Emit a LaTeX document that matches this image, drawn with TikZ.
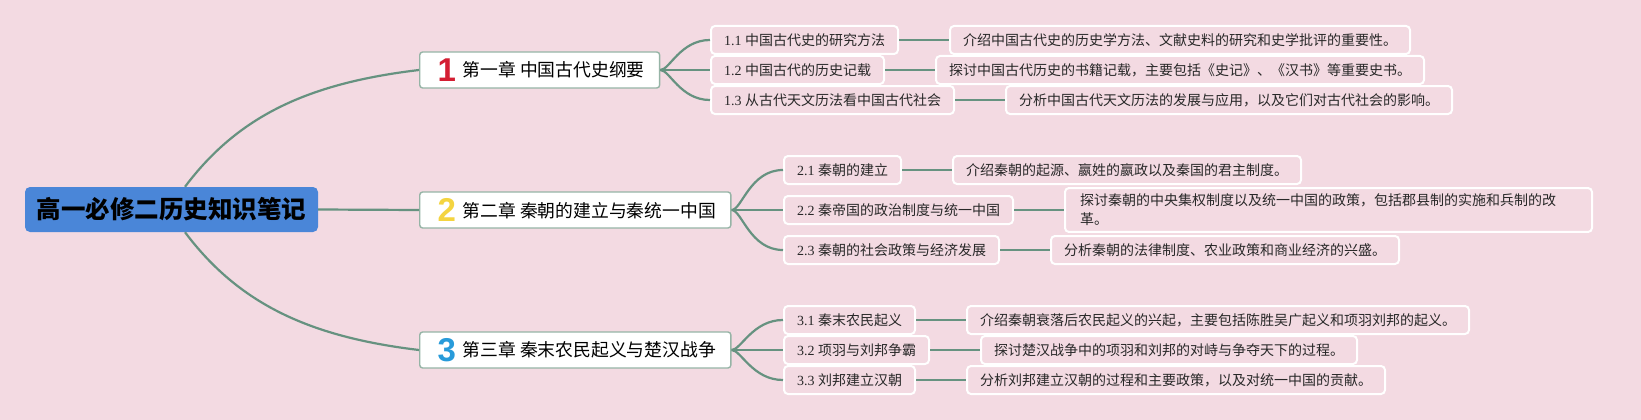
\documentclass[tikz,border=0pt]{standalone}
\usepackage{fontspec}
\setmainfont{Liberation Serif}
\newfontfamily\cjk{Noto Sans CJK SC}
\newfontfamily\numfont{Liberation Sans}
\usetikzlibrary{positioning}
\definecolor{bgpink}{RGB}{243,218,226}
\definecolor{linkgreen}{RGB}{102,146,128}
\definecolor{chapborder}{RGB}{150,180,166}
\definecolor{rootblue}{RGB}{74,134,216}
\definecolor{numred}{RGB}{212,30,50}
\definecolor{numyellow}{RGB}{244,212,64}
\definecolor{numblue}{RGB}{40,155,218}
\definecolor{txtgray}{RGB}{40,40,40}
\tikzset{x=1pt, y=-1pt,
    rootnode/.style={fill=rootblue, rounded corners=5pt, minimum width=293pt,
        minimum height=45pt, font=\cjk\bfseries\fontsize{24.5}{28}\selectfont},
    chapnode/.style={draw=chapborder, line width=1.4pt, fill=white, rounded corners=3pt,
        anchor=west, minimum height=36pt, inner xsep=15pt, inner ysep=2pt,
        font=\cjk\fontsize{17.8}{20}\selectfont},
    subnode/.style={draw=white, line width=2pt, fill=bgpink, rounded corners=4pt,
        anchor=west, minimum height=28pt, inner xsep=13pt, inner ysep=3pt,
        text=txtgray, font=\fontsize{14}{17}\selectfont},
    descnode/.style={subnode, right=50pt of #1, font=\cjk\fontsize{14}{19}\selectfont},
    link/.style={draw=linkgreen, line width=2.2pt},
    fan/.style={link, out=0, in=180, out looseness=0.4, in looseness=1.3},
    }
\newcommand{\chapnum}[2]{\makebox[24pt]{\raisebox{-4.4pt}{\numfont\bfseries\fontsize{33}{33}\selectfont\color{#1}#2}}\hspace{4pt}}

\begin{document}
\begin{tikzpicture}
	\fill[bgpink] (0,0) rectangle (1641,420);
	\node[rootnode] (root) at (171.5,209.5) {高一必修二历史知识笔记};
	% chapters
	\node[chapnode] (ch1) at (419,70) {\chapnum{numred}{1}第一章 中国古代史纲要};
	\node[chapnode] (ch2) at (419,210) {\chapnum{numyellow}{2}第二章 秦朝的建立与秦统一中国};
	\node[chapnode] (ch3) at (419,350) {\chapnum{numblue}{3}第三章 秦末农民起义与楚汉战争};
	\draw[link] ([xshift=13.5pt]root.north) .. controls +(54,-72) and +(-109,13) .. (ch1.west);
	\draw[link] (root.east) -- (ch2.west);
	\draw[link] ([xshift=13.5pt]root.south) .. controls +(54,72) and +(-109,-13) .. (ch3.west);
	% chapter 1
	\node[subnode] (s11) at (710,40) {1.1 {\cjk 中国古代史的研究方法}};
	\node[subnode] (s12) at (710,70) {1.2 {\cjk 中国古代的历史记载}};
	\node[subnode] (s13) at (710,100) {1.3 {\cjk 从古代天文历法看中国古代社会}};
	\node[descnode=s11] (d11) {介绍中国古代史的历史学方法、文献史料的研究和史学批评的重要性。};
	\node[descnode=s12] (d12) {探讨中国古代历史的书籍记载，主要包括《史记》、《汉书》等重要史书。};
	\node[descnode=s13] (d13) {分析中国古代天文历法的发展与应用，以及它们对古代社会的影响。};
	% chapter 2
	\node[subnode] (s21) at (783,170) {2.1 {\cjk 秦朝的建立}};
	\node[subnode] (s22) at (783,210) {2.2 {\cjk 秦帝国的政治制度与统一中国}};
	\node[subnode] (s23) at (783,250) {2.3 {\cjk 秦朝的社会政策与经济发展}};
	\node[descnode=s21] (d21) {介绍秦朝的起源、嬴姓的嬴政以及秦国的君主制度。};
	\node[descnode=s22, text width=497pt, align=left, inner xsep=15pt, inner ysep=6pt] (d22)
		{探讨秦朝的中央集权制度以及统一中国的政策，包括郡县制的实施和兵制的改\\革。};
	\node[descnode=s23] (d23) {分析秦朝的法律制度、农业政策和商业经济的兴盛。};
	% chapter 3
	\node[subnode] (s31) at (783,320) {3.1 {\cjk 秦末农民起义}};
	\node[subnode] (s32) at (783,350) {3.2 {\cjk 项羽与刘邦争霸}};
	\node[subnode] (s33) at (783,380) {3.3 {\cjk 刘邦建立汉朝}};
	\node[descnode=s31] (d31) {介绍秦朝衰落后农民起义的兴起，主要包括陈胜吴广起义和项羽刘邦的起义。};
	\node[descnode=s32] (d32) {探讨楚汉战争中的项羽和刘邦的对峙与争夺天下的过程。};
	\node[descnode=s33] (d33) {分析刘邦建立汉朝的过程和主要政策，以及对统一中国的贡献。};
	% fans
	\draw (ch1.east) edge[fan] (s11.west) edge[fan] (s12.west) edge[fan] (s13.west);
	\draw (ch2.east) edge[fan] (s21.west) edge[fan] (s22.west) edge[fan] (s23.west);
	\draw (ch3.east) edge[fan] (s31.west) edge[fan] (s32.west) edge[fan] (s33.west);
	\draw[link] (s11.east) -- (d11.west);
	\draw[link] (s12.east) -- (d12.west);
	\draw[link] (s13.east) -- (d13.west);
	\draw[link] (s21.east) -- (d21.west);
	\draw[link] (s22.east) -- (d22.west);
	\draw[link] (s23.east) -- (d23.west);
	\draw[link] (s31.east) -- (d31.west);
	\draw[link] (s32.east) -- (d32.west);
	\draw[link] (s33.east) -- (d33.west);
\end{tikzpicture}
\end{document}
